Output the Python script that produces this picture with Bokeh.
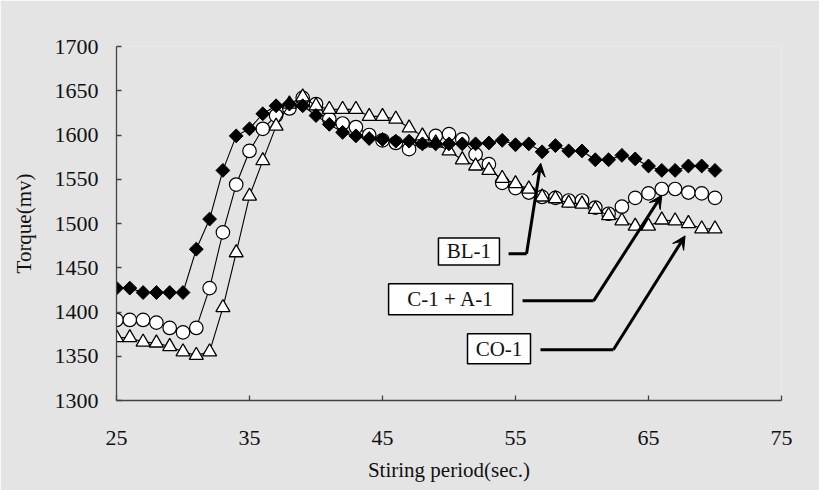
from bokeh.plotting import figure
from bokeh.models import Range1d, FixedTicker, Arrow, VeeHead
from bokeh.core.properties import value
from bokeh.embed import file_html
from bokeh.resources import INLINE
import numpy as np

# ---- data ----
seconds = list(range(25, 71))
bl1 = [1427, 1427, 1422, 1422, 1422, 1422, 1471, 1505, 1560, 1599,
       1607, 1624, 1633, 1635, 1633, 1622, 1612, 1603, 1599, 1596,
       1595, 1593, 1593, 1590, 1590, 1590, 1590, 1590, 1591, 1594,
       1589, 1590, 1581, 1588, 1582, 1582, 1572, 1572, 1577, 1573,
       1565, 1560, 1560, 1565, 1565, 1560]
c1a1 = [1391, 1391, 1391, 1388, 1382, 1377, 1382, 1427, 1490, 1544,
        1582, 1607, 1622, 1630, 1642, 1635, 1618, 1613, 1609, 1600,
        1594, 1591, 1584, 1592, 1599, 1601, 1595, 1578, 1567, 1546,
        1540, 1535, 1530, 1529, 1526, 1526, 1518, 1511, 1519, 1529,
        1534, 1539, 1539, 1535, 1534, 1529]
co1 = [1371, 1371, 1366, 1365, 1361, 1355, 1351, 1355, 1405, 1467,
       1531, 1571, 1610, 1635, 1643, 1633, 1629, 1629, 1629, 1621,
       1621, 1618, 1608, 1599, 1591, 1582, 1572, 1565, 1560, 1551,
       1545, 1539, 1530, 1528, 1523, 1522, 1516, 1509, 1503, 1497,
       1497, 1504, 1503, 1500, 1494, 1494]
x_ticks = [25, 35, 45, 55, 65, 75]
y_ticks = [1300, 1350, 1400, 1450, 1500, 1550, 1600, 1650, 1700]
series_names = ["BL-1", "C-1 + A-1", "CO-1"]

# ---- annotation placement (data coords) ----
box_x = [51.5, 50.12, 53.76]
box_y = [1468.5, 1414.3, 1358.4]
box_w = [61, 124, 63]
box_h = [27, 31, 30]
lead_x0 = [54.48, 55.53, 56.88]
lead_x1 = [55.83, 60.87, 62.36]
lead_y = [1465.7, 1412.6, 1357.3]
tip_x = [56.9, 66.0, 67.75]
tip_y = [1568, 1532, 1486]

BG = "#e4e4e4"
FONT = "Liberation Serif"
AX = "#444444"

p = figure(width=819, height=490, x_range=Range1d(25, 75), y_range=Range1d(1300, 1700),
           output_backend="svg", toolbar_location=None,
           background_fill_color=BG, border_fill_color=BG,
           min_border_left=116, min_border_right=38, min_border_top=46, min_border_bottom=90)
p.outline_line_color = None
p.grid.visible = False

p.xaxis.ticker = FixedTicker(ticks=x_ticks)
p.yaxis.ticker = FixedTicker(ticks=y_ticks)
for ax in (p.xaxis[0], p.yaxis[0]):
    ax.axis_line_color = AX
    ax.axis_line_width = 1.3
    ax.major_tick_line_color = AX
    ax.major_tick_line_width = 1.3
    ax.major_tick_in = 5
    ax.major_tick_out = 0
    ax.minor_tick_line_color = None
    ax.major_label_text_font = FONT
    ax.major_label_text_font_size = "22px"
    ax.major_label_text_color = "#111111"
    ax.axis_label_text_font = FONT
    ax.axis_label_text_font_size = "21px"
    ax.axis_label_text_font_style = "normal"
    ax.axis_label_text_color = "#111111"
p.xaxis.axis_label = "Stiring period(sec.)"
p.yaxis.axis_label = "Torque(mv)"
p.xaxis.major_label_standoff = 30
p.yaxis.major_label_standoff = 18
p.xaxis.axis_label_standoff = 10
p.yaxis.axis_label_standoff = 16

# circles (C-1 + A-1)
p.line(seconds, c1a1, line_color="black", line_width=1.1)
p.scatter(seconds, c1a1, marker="circle", size=13.5, fill_color="white",
          line_color="black", line_width=1.2)
# triangles (CO-1)
p.line(seconds, co1, line_color="black", line_width=1.1)
p.scatter(seconds, co1, marker="triangle", size=14, fill_color="white",
          line_color="black", line_width=1.3)
# diamonds (BL-1)
p.line(seconds, bl1, line_color="black", line_width=1.1)
p.scatter(seconds, bl1, marker="square", angle=np.pi / 4, size=9.8,
          fill_color="black", line_color="black", line_width=1)

# leaders + arrows
p.segment(x0=lead_x0, y0=lead_y, x1=lead_x1, y1=lead_y, line_color="black", line_width=3)
for i in range(3):
    p.add_layout(Arrow(end=VeeHead(size=13, fill_color="black", line_color="black", line_width=1),
                       x_start=lead_x1[i], y_start=lead_y[i], x_end=tip_x[i], y_end=tip_y[i],
                       line_color="black", line_width=3))

# label boxes
p.rect(x=box_x, y=box_y, width=box_w, height=box_h, width_units="screen", height_units="screen",
       fill_color="white", line_color="black", line_width=1.5)
p.text(x=box_x, y=box_y, text=series_names, text_align="center", text_baseline="middle",
       text_font=value(FONT), text_font_size="21px", text_color="#111111")

open("out.html", "w").write(file_html(p, INLINE))
